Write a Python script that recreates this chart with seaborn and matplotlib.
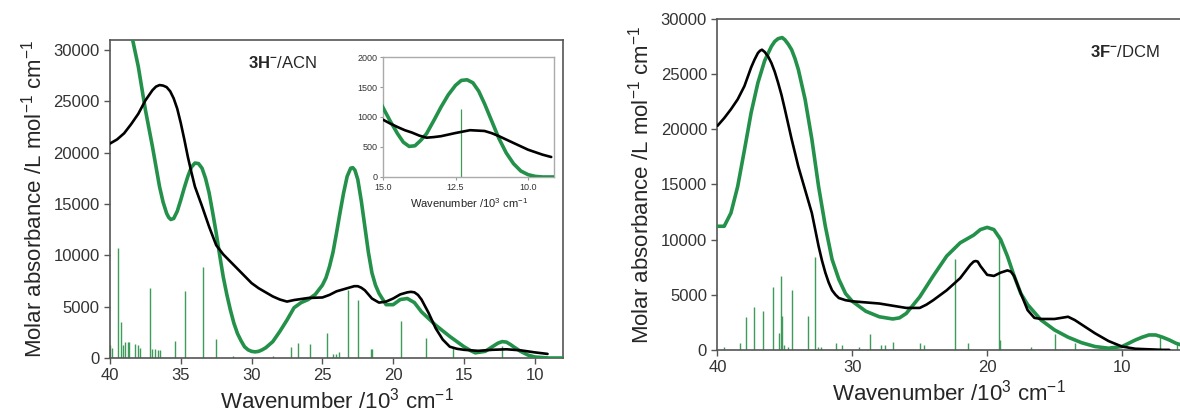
import numpy as np
import pandas as pd
import matplotlib
matplotlib.use("Agg")
import matplotlib.pyplot as plt
import seaborn as sns

# --- 3H-/ACN: experimental (black) and calculated (green) spectra ---
h_exp_x = [40, 39.5, 39, 38.5, 38, 37.5, 37, 36.75, 36.5, 36.25, 36, 35.75, 35.5, 35.25, 35, 34.75,
           34.5, 34.25, 34, 33.5, 33, 32.5, 32, 31.5, 31, 30.5, 30, 29.5, 29, 28.5, 28, 27.5, 27,
           26, 25, 24.5, 24, 23.5, 23, 22.75, 22.5, 22.25, 22, 21.5, 21, 20.5, 20, 19.5, 19,
           18.75, 18.5, 18.25, 18, 17.5, 17, 16.5, 16, 15.5, 15, 14, 13, 12, 11, 10, 9.1]
h_exp_y = [20900, 21300, 21900, 22800, 23800, 25100, 26100, 26450, 26600, 26550, 26400, 26000,
           25300, 24300, 22900, 21300, 19600, 18100, 16700, 14800, 12800, 11000, 10100, 9400,
           8700, 8000, 7300, 6800, 6400, 6000, 5700, 5500, 5650, 5850, 5900, 6150, 6500, 6700,
           6900, 7000, 7000, 6850, 6600, 5800, 5400, 5500, 5800, 6200, 6400, 6450, 6400, 6150,
           5700, 4400, 2900, 1800, 1100, 900, 800, 700, 800, 850, 750, 550, 400]
h_calc_x = [40, 39, 38.4, 38, 37.5, 37, 36.5, 36.25, 36, 35.85, 35.7, 35.5, 35.25, 35, 34.75, 34.5,
            34.25, 34, 33.75, 33.5, 33.25, 33, 32.75, 32.5, 32.25, 32, 31.75, 31.5, 31.25, 31,
            30.75, 30.5, 30.25, 30, 29.75, 29.5, 29.25, 29, 28.5, 28, 27.5, 27, 26.5, 26, 25.5,
            25, 24.75, 24.5, 24.25, 24, 23.75, 23.5, 23.25, 23, 22.85, 22.7, 22.5, 22.25, 22,
            21.75, 21.5, 21.25, 21, 20.5, 20, 19.5, 19, 18.5, 18, 17, 16, 15, 14.5, 14.2, 14,
            13.5, 13, 12.6, 12.3, 12, 11.7, 11.5, 11, 10.5, 10, 9, 8]
h_calc_y = [45000, 37500, 31000, 28400, 24200, 20600, 16700, 15200, 14100, 13700, 13500, 13600,
            14300, 15400, 16600, 17700, 18600, 19000, 18950, 18500, 17500, 16100, 14200, 12200,
            10000, 7900, 6200, 4700, 3400, 2400, 1700, 1100, 800, 650, 600, 650, 800, 1000, 1600,
            2600, 3700, 4900, 5400, 5700, 6200, 7100, 7800, 8900, 10300, 12200, 14200, 16100,
            17700, 18500, 18550, 18300, 17400, 15300, 12800, 10300, 8300, 7100, 6300, 5200, 5200,
            5700, 5800, 5400, 4500, 3200, 2100, 1100, 700, 500, 550, 650, 1100, 1450, 1600, 1550,
            1300, 1100, 650, 300, 100, 0, 0]
h_stick_x = [40.0, 39.85, 39.45, 39.25, 39.1, 38.95, 38.75, 38.65, 38.2, 38.05, 37.85, 37.2, 37.0,
             36.8, 36.6, 36.5, 35.4, 34.7, 33.4, 32.5, 31.3, 28.5, 27.25, 26.75, 25.9, 24.7,
             24.25, 24.05, 23.8, 23.2, 22.5, 21.6, 21.5, 19.45, 17.7, 15.8, 12.3]
h_stick_y = [1300, 1000, 10700, 3500, 1300, 1600, 1600, 1600, 1400, 1300, 1000, 6800, 900, 900,
             800, 800, 1700, 6500, 8900, 1850, 200, 200, 1100, 1500, 1400, 2400, 400, 400, 550,
             6600, 5700, 900, 900, 3600, 1950, 1100, 1140]

# inset, 15 - 9 x 10^3 cm-1
ins_exp_x = [15, 14.75, 14.5, 14.25, 14, 13.75, 13.5, 13.25, 13, 12.5, 12, 11.5, 11.25, 11, 10.5,
             10, 9.5, 9.2]
ins_exp_y = [955, 890, 833, 780, 740, 690, 655, 665, 680, 733, 780, 767, 730, 680, 567, 455, 372,
             333]
ins_calc_x = [15.2, 15, 14.75, 14.5, 14.3, 14.1, 13.9, 13.7, 13.5, 13.25, 13, 12.75, 12.5, 12.3,
              12.1, 11.9, 11.7, 11.5, 11.25, 11, 10.75, 10.5, 10.25, 10, 9.75, 9.5, 9.0]
ins_calc_y = [1350, 1155, 930, 722, 580, 510, 520, 610, 722, 940, 1166, 1370, 1528, 1610, 1620,
              1570, 1430, 1222, 930, 638, 400, 222, 100, 39, 10, 0, 0]

# --- 3F-/DCM ---
f_exp_x = [40, 39.5, 39, 38.5, 38, 37.5, 37.25, 37, 36.85, 36.7, 36.5, 36.25, 36, 35.75, 35.5,
           35.25, 35, 34.5, 34, 33.5, 33, 32.5, 32.25, 32, 31.75, 31.5, 31.25, 31, 30.5, 30, 29,
           28, 27, 26, 25, 24.5, 24, 23, 22, 21.5, 21.25, 21, 20.85, 20.7, 20.5, 20.25, 20, 19.5,
           19, 18.5, 18.25, 18, 17.5, 17, 16.5, 16, 15, 14, 13.5, 13, 12, 11, 10, 9, 8, 7, 6.5]
f_exp_y = [20300, 21000, 21800, 22700, 23900, 25600, 26300, 26900, 27100, 27200, 27000, 26600,
           26000, 25200, 24200, 23100, 21800, 19100, 16600, 14500, 12400, 9400, 8100, 7000, 6100,
           5400, 5000, 4700, 4500, 4400, 4300, 4200, 4000, 3800, 3800, 4100, 4500, 5400, 6500,
           7300, 7700, 8000, 8050, 8000, 7600, 7200, 6800, 6700, 7000, 7200, 7100, 6700, 5100,
           3600, 2900, 2800, 2800, 3000, 2700, 2300, 1500, 800, 300, 100, 50, 0, 0]
f_calc_x = [40, 39.5, 39, 38.5, 38, 37.5, 37, 36.5, 36, 35.75, 35.5, 35.2, 35, 34.75, 34.5, 34.25,
            34, 33.5, 33, 32.5, 32, 31.5, 31, 30.5, 30, 29, 28, 27, 26.5, 26, 25, 24, 23, 22, 21,
            20.5, 20, 19.5, 19, 18.5, 18, 17.5, 17, 16, 15, 14, 13, 12, 11, 10, 9.5, 9, 8.5, 8,
            7.5, 7, 6.5, 6, 5.5]
f_calc_y = [11200, 11200, 12400, 14800, 18100, 21500, 24200, 26200, 27500, 27950, 28200, 28300,
            28100, 27700, 27200, 26400, 25400, 22700, 19100, 14800, 11200, 8200, 6400, 5100, 4400,
            3500, 3000, 2800, 2900, 3300, 4800, 6700, 8500, 9700, 10400, 10900, 11100, 10900,
            10000, 8500, 6700, 5100, 4100, 2700, 1800, 1150, 650, 300, 150, 300, 600, 900, 1150,
            1350, 1350, 1150, 900, 600, 400]
f_stick_x = [39.5, 38.35, 37.9, 37.3, 36.6, 35.85, 35.4, 35.3, 35.2, 35.05, 34.8, 34.45, 33.25,
             32.8, 32.55, 32.3, 31.2, 30.8, 29.5, 28.7, 27.9, 27.55, 27.0, 24.95, 24.7, 22.4,
             21.4, 19.1, 19.05, 16.75, 15.0, 13.45, 7.2, 5.9]
f_stick_y = [300, 650, 3000, 3900, 3500, 5700, 1500, 6700, 3100, 450, 300, 5400, 3100, 8400, 300,
             300, 600, 450, 300, 1450, 450, 450, 750, 650, 450, 8200, 600, 10400, 900, 300, 1400,
             600, 1200, 650]

green = "#23914a"
stick_green = "#3c9c58"
frame = "#555555"

sns.set_style("ticks")
plt.rcParams["font.family"] = ["Liberation Sans", "DejaVu Sans"]
plt.rcParams["mathtext.fontset"] = "custom"
plt.rcParams["mathtext.rm"] = "Liberation Sans"
plt.rcParams["mathtext.bf"] = "Liberation Sans:bold"
plt.rcParams["xtick.color"] = "#333333"
plt.rcParams["ytick.color"] = "#333333"

fig = plt.figure(figsize=(11.8, 4.18), dpi=100)
ax1 = fig.add_axes([0.0932, 0.1435, 0.384, 0.761])
ax2 = fig.add_axes([0.608, 0.163, 0.392, 0.792])
axin = fig.add_axes([0.3246, 0.5766, 0.145, 0.287])

ylab = "Molar absorbance /L mol$^{-1}$ cm$^{-1}$"
xlab = "Wavenumber /10$^3$ cm$^{-1}$"


def spectrum(ax, sx, sy, ex, ey, cx, cy, lw_stick=1.0):
    ax.vlines(sx, 0, sy, color=stick_green, lw=lw_stick, zorder=1)
    sns.lineplot(x=cx, y=cy, ax=ax, color=green, lw=2.6, sort=False, zorder=3)
    sns.lineplot(x=ex, y=ey, ax=ax, color="black", lw=1.9, sort=False, zorder=4)


# left panel
spectrum(ax1, h_stick_x, h_stick_y, h_exp_x, h_exp_y, h_calc_x, h_calc_y)
ax1.set_xlim(40, 8)
ax1.set_ylim(0, 31000)
ax1.set_xticks([40, 35, 30, 25, 20, 15, 10])
ax1.set_yticks(range(0, 30001, 5000))
ax1.set_xlabel(xlab, fontsize=16, labelpad=3)
ax1.set_ylabel(ylab, fontsize=16, labelpad=5)
ax1.tick_params(labelsize=12, length=4, color=frame, width=1)
for s in ax1.spines.values():
    s.set_color(frame)
    s.set_linewidth(1.2)
ax1.text(0.305, 0.928, "$\\mathbf{3H^{-}}$/ACN", transform=ax1.transAxes, fontsize=12,
         ha="left", va="center")

# inset
spectrum(axin, [12.3], [1140], ins_exp_x, ins_exp_y, ins_calc_x, ins_calc_y, lw_stick=0.9)
axin.set_xlim(15, 9.1)
axin.set_ylim(0, 2000)
axin.set_xticks([15.0, 12.5, 10.0])
axin.set_xticklabels(["15.0", "12.5", "10.0"])
axin.set_yticks([0, 500, 1000, 1500, 2000])
axin.tick_params(labelsize=6.5, length=2, color="#999999", pad=2)
axin.set_xlabel(xlab, fontsize=8, labelpad=3)
for s in axin.spines.values():
    s.set_color("#aaaaaa")
    s.set_linewidth(1.0)

# right panel
spectrum(ax2, f_stick_x, f_stick_y, f_exp_x, f_exp_y, f_calc_x, f_calc_y)
ax2.set_xlim(40, 5.7)
ax2.set_ylim(0, 30000)
ax2.set_xticks([40, 30, 20, 10])
ax2.set_yticks(range(0, 30001, 5000))
ax2.set_xlabel(xlab, fontsize=16, labelpad=3)
ax2.set_ylabel(ylab, fontsize=16, labelpad=5)
ax2.tick_params(labelsize=12, length=4, color=frame, width=1)
for s in ax2.spines.values():
    s.set_color(frame)
    s.set_linewidth(1.2)
ax2.spines["right"].set_visible(False)
ax2.text(0.805, 0.90, "$\\mathbf{3F^{-}}$/DCM", transform=ax2.transAxes, fontsize=12,
         ha="left", va="center")

fig.savefig("out.png", dpi=100)
